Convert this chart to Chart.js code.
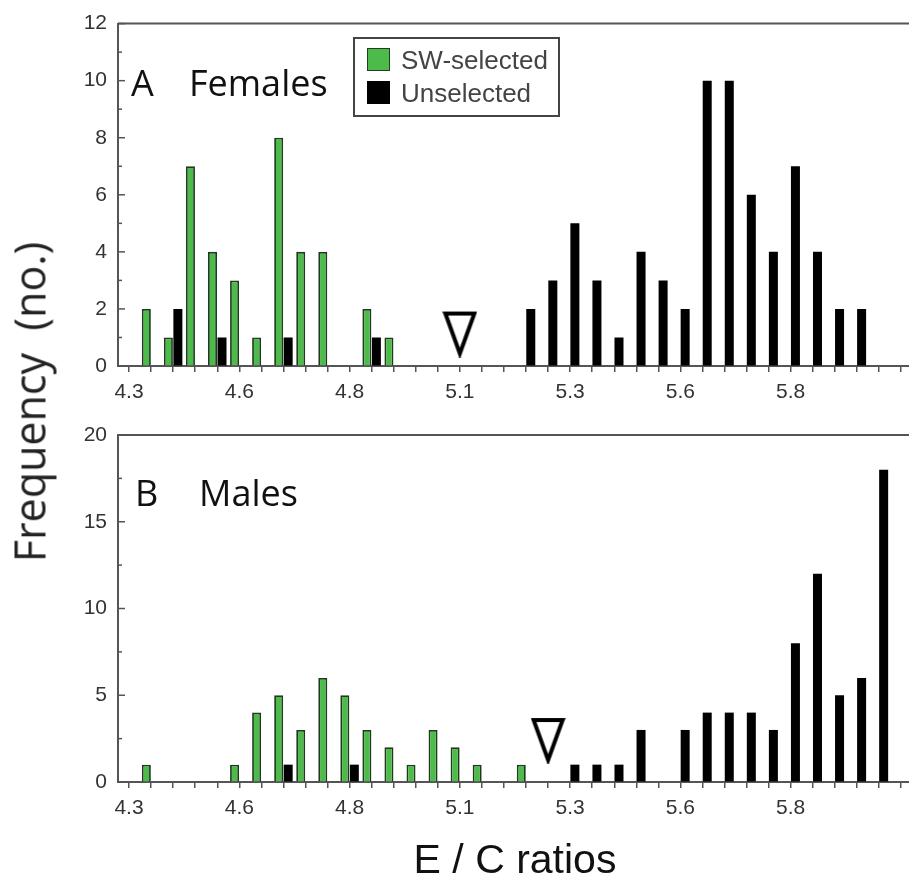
<!DOCTYPE html>
<html>
<head>
<meta charset="utf-8">
<script src="https://cdn.jsdelivr.net/npm/chart.js@4.4.1/dist/chart.umd.min.js"></script>
<style>
  html, body { margin: 0; padding: 0; background: #fff; overflow: hidden; width: 909px; height: 882px; }
  .box { position: absolute; left: 0; }
  .panel { position: absolute; font-family: "Open Sans", sans-serif; font-size: 36px; color: #111; line-height: 1; white-space: nowrap; }
  #legend { position: absolute; left: 353px; top: 37px; width: 203px; height: 76px; border: 2px solid #444; background: #fff;
            font-family: "Liberation Sans", Arial, sans-serif; font-size: 26px; color: #444; }
  #legend .row { position: absolute; left: 12px; height: 24px; line-height: 24px; white-space: nowrap; }
  #legend .sw { display: inline-block; width: 21px; height: 21px; vertical-align: top; margin-right: 11px; border: 1px solid #1f3f1f; }
  #ytitle { position: absolute; left: 29px; top: 402px; transform: translate(-50%, -50%) rotate(-90deg);
            font-family: "Open Sans", sans-serif; font-size: 43px; color: #222; white-space: nowrap; }
</style>
</head>
<body>
<div class="box" style="top:0"><canvas id="female" width="916" height="410"></canvas></div>
<div class="box" style="top:410px"><canvas id="male" width="916" height="472"></canvas></div>

<div class="panel" style="left:131px; top:65px">A</div>
<div class="panel" style="left:189px; top:65px">Females</div>
<div class="panel" style="left:135px; top:475px">B</div>
<div class="panel" style="left:199px; top:475px">Males</div>

<div id="legend">
  <div class="row" style="top:9px"><span class="sw" style="background:#4cbb4a"></span>SW-selected</div>
  <div class="row" style="top:42px"><span class="sw" style="background:#000;border-color:#000"></span>Unselected</div>
</div>

<div id="ytitle">Frequency&nbsp;&nbsp;(no.)</div>

<script>
// E/C ratio bins (0.05 wide)
const bins = ['4.35','4.40','4.45','4.50','4.55','4.60','4.65','4.70','4.75','4.80','4.85','4.90',
              '4.95','5.00','5.05','5.10','5.15','5.20','5.25','5.30','5.35','5.40','5.45','5.50',
              '5.55','5.60','5.65','5.70','5.75','5.80','5.85','5.90','5.95','6.00','6.05','6.10'];
const tickLabels = ['4.3','4.6','4.8','5.1','5.3','5.6','5.8'];

// A: females
const femSelected   = [0,2,1,7,4,3,1,8,4,4,0,2,1,0,0,0,0,0,0,0,0,0,0,0,0,0,0,0,0,0,0,0,0,0,0,0];
const femUnselected = [0,0,2,0,1,0,0,1,0,0,0,1,0,0,0,0,0,0,2,3,5,3,1,4,3,2,10,10,6,4,7,4,2,2,0,0];
// B: males
const maleSelected   = [0,1,0,0,0,1,4,5,3,6,5,3,2,1,3,2,1,0,1,0,0,0,0,0,0,0,0,0,0,0,0,0,0,0,0,0];
const maleUnselected = [0,0,0,0,0,0,0,1,0,0,1,0,0,0,0,0,0,0,0,0,1,1,1,3,0,3,4,4,4,3,8,12,5,6,18,0];

// open triangles (female, male)
const markerBins = ['5.10', '5.30'];
const markerY = [1.12, 2.39];

const tickFont = { family: "'Liberation Sans Narrow', 'Liberation Sans', Arial, sans-serif", size: 21 };

// tall open triangle used as point style
function triangleImage() {
  const c = document.createElement('canvas');
  c.width = 35; c.height = 47;
  const g = c.getContext('2d');
  g.lineWidth = 4;
  g.lineJoin = 'miter';
  g.beginPath();
  g.moveTo(3, 3); g.lineTo(32, 3); g.lineTo(17.5, 43); g.closePath();
  g.fillStyle = '#fff'; g.fill();
  g.strokeStyle = '#000'; g.stroke();
  return c;
}
const tri = triangleImage();

// frame line at top + inward y ticks
const frame = {
  id: 'frame',
  afterDraw(chart) {
    const { ctx, chartArea: a } = chart;
    const y = chart.scales.y;
    const major = chart.options.plugins.frame.major;
    ctx.save();
    ctx.strokeStyle = '#555';
    ctx.lineWidth = 2;
    ctx.beginPath();
    ctx.moveTo(a.left, a.top); ctx.lineTo(a.right + 5, a.top);
    ctx.stroke();
    ctx.lineWidth = 1.5;
    y.ticks.forEach(t => {
      const py = y.getPixelForValue(t.value);
      const len = t.value % major === 0 ? 7 : 4;
      ctx.beginPath();
      ctx.moveTo(a.left, py); ctx.lineTo(a.left + len, py);
      ctx.stroke();
    });
    ctx.restore();
  }
};

function makeChart(id, selected, unselected, mIdx, yMax, yStep, yMajor, padTop, xHeight, withTitle) {
  new Chart(document.getElementById(id), {
    type: 'bar',
    data: {
      labels: bins,
      datasets: [
        {
          label: 'SW-selected', data: selected,
          backgroundColor: '#4cbb4a', borderColor: '#1f3a1f', borderWidth: 1.8,
          categoryPercentage: 0.86, barPercentage: 0.95
        },
        {
          label: 'Unselected', data: unselected,
          backgroundColor: '#000', borderWidth: 0,
          categoryPercentage: 0.86, barPercentage: 0.95
        },
        {
          type: 'line', label: 'threshold',
          data: bins.map(b => b === markerBins[mIdx] ? markerY[mIdx] : null),
          showLine: false, pointStyle: tri, pointRadius: 15
        }
      ]
    },
    options: {
      responsive: false,
      animation: false,
      layout: { autoPadding: false, padding: { top: padTop, right: 4, left: 0, bottom: 0 } },
      plugins: { legend: { display: false }, tooltip: { enabled: false }, frame: { major: yMajor } },
      scales: {
        x: {
          grid: { drawOnChartArea: false, drawTicks: true, tickLength: 6, offset: false, color: '#555', lineWidth: 1.5 },
          border: { display: true, color: '#555', width: 2 },
          ticks: {
            autoSkip: false, maxRotation: 0, padding: 8, color: '#333', font: tickFont,
            callback: (v, i) => (i % 5 === 0 && tickLabels[i / 5]) ? tickLabels[i / 5] : ''
          },
          title: {
            display: withTitle, text: 'E / C ratios', color: '#111',
            font: { family: "'Liberation Sans', Arial, sans-serif", size: 41, lineHeight: 1 }, padding: { top: 0, bottom: 0 }
          },
          afterFit: s => { s.height = xHeight; }
        },
        y: {
          min: 0, max: yMax,
          grid: { drawOnChartArea: false, drawTicks: false },
          border: { display: true, color: '#555', width: 2 },
          ticks: {
            stepSize: yStep, padding: 11, color: '#333',
            font: { family: "'Liberation Sans', Arial, sans-serif", size: 21 },
            callback: v => v % yMajor === 0 ? v : ''
          },
          afterFit: s => { s.width = 118; }
        }
      }
    },
    plugins: [frame]
  });
}

makeChart('female', femSelected, femUnselected, 0, 12, 1, 2, 18, 44, false);
makeChart('male', maleSelected, maleUnselected, 1, 20, 2.5, 5, 25, 100, true);
</script>
</body>
</html>
